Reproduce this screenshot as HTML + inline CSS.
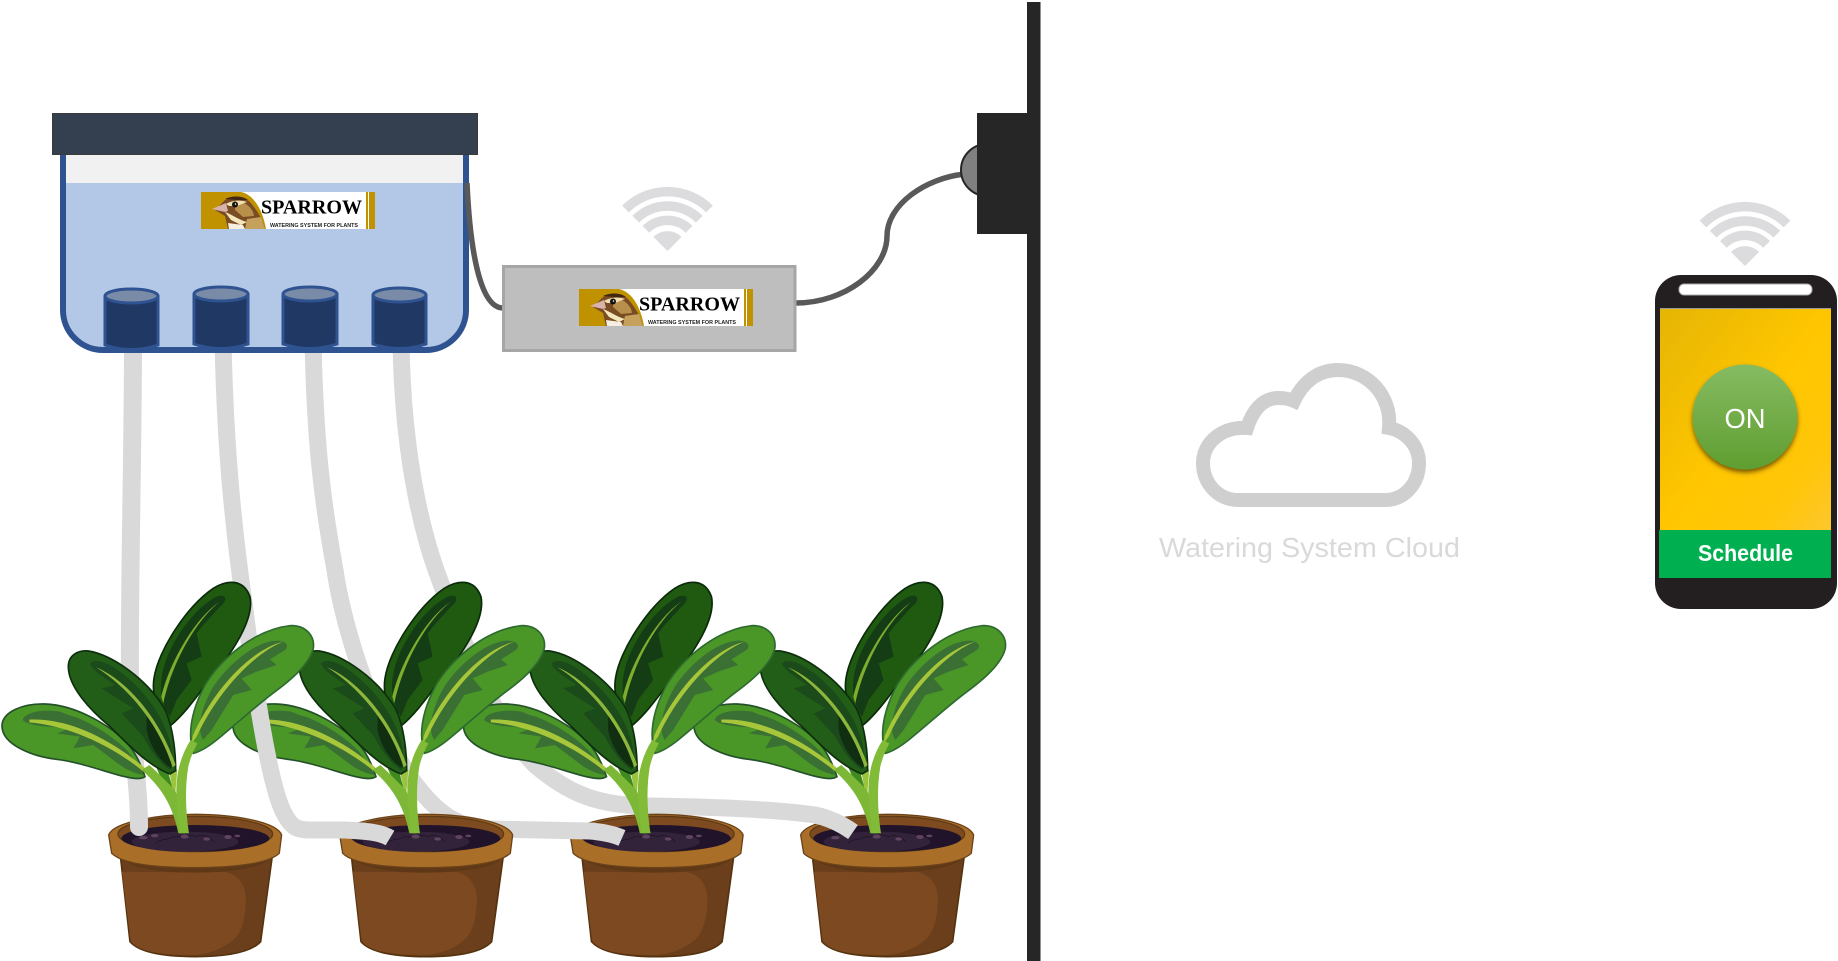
<!DOCTYPE html>
<html>
<head>
<meta charset="utf-8">
<style>
html,body{margin:0;padding:0;background:#fff;width:1838px;height:961px;overflow:hidden}
svg{display:block}
</style>
</head>
<body>
<svg width="1838" height="961" viewBox="0 0 1838 961" xmlns="http://www.w3.org/2000/svg">
<defs>
  <linearGradient id="scr" x1="0" y1="0" x2="1" y2="1"><stop offset="0" stop-color="#e5b505"/><stop offset=".5" stop-color="#ffc600"/><stop offset=".8" stop-color="#ffc60a"/><stop offset="1" stop-color="#fec72e"/></linearGradient>
  <linearGradient id="btn" x1="0" y1="0" x2="0" y2="1"><stop offset="0" stop-color="#86bb62"/><stop offset="1" stop-color="#5f9e30"/></linearGradient>
  <filter id="sh" x="-30%" y="-30%" width="160%" height="160%"><feDropShadow dx="0" dy="3" stdDeviation="2.500" flood-color="#5a4000" flood-opacity=".8"/></filter>
  <g id="wifi" fill="none" stroke="#dcdcdf" stroke-width="9.500">
    <path d="M-42 -42A59.500 59.500 0 0 1 42 -42"/>
    <path d="M-31.800 -31.800A45 45 0 0 1 31.800 -31.800"/>
    <path d="M-21.600 -21.600A30.500 30.500 0 0 1 21.600 -21.600"/>
    <path d="M0 0L-14.100 -14.100A20 20 0 0 1 14.100 -14.100Z" fill="#dcdcdf" stroke="none"/>
  </g>
  <g id="bird">
    <rect x="0" y="0" width="174" height="37" fill="#fff"/>
    <path d="M0 0H40C54 3 62 20 65 37H0Z" fill="#c09200"/>
    <rect x="165" y="0" width="2" height="37" fill="#c09200"/>
    <rect x="168" y="0" width="6" height="37" fill="#c09200"/>
    <path d="M24 8C32 3 42 4 49 10C56 18 62 28 64 37H27L24 24L14 18Z" fill="#7a4c24"/>
    <path d="M34 9C44 9 52 16 53 24L42 25L34 18Z" fill="#b98f4c"/>
    <path d="M46 27L60 25L64 37H44Z" fill="#c6a15e"/>
    <path d="M25 12C32 8 40 8 46 10L36 14L28 14Z" fill="#f0dfb0"/>
    <path d="M24 20C30 22 38 28 46 30L40 33L30 28Z" fill="#f4e7bc"/>
    <path d="M27 31L42 33L44 37H28Z" fill="#f4efe0"/>
    <path d="M24 7C32 3 42 4 47 8L36 8Z" fill="#3f2714"/>
    <path d="M11 17L25 11L27 19L24 20Z" fill="#d9b2ab"/>
    <circle cx="34" cy="12.500" r="3" fill="#111"/>
    <circle cx="34.500" cy="12" r=".8" fill="#fff"/>
  </g>
  <g id="pot">
    <path d="M362 865L390 1115C420 1150 500 1160 585 1160C670 1160 750 1150 782 1115L816 865Z" fill="#6b3f1b" stroke="#55330f" stroke-width="5"/>
    <path d="M366 905Q500 908 670 905Q735 915 738 990Q735 1080 700 1110Q650 1150 585 1155C500 1155 420 1150 392 1113Z" fill="#7d4920"/>
    <path d="M362 865C400 895 480 908 585 908C690 908 780 895 816 865L816 850L362 850Z" fill="#5e3817"/>
    <path d="M326 795C340 755 480 733 585 733C700 733 830 755 845 795L838 850C800 885 680 893 585 893C480 893 370 885 335 850Z" fill="#a96f28" stroke="#6b4219" stroke-width="4"/>
    <ellipse cx="586" cy="792" rx="232" ry="53" fill="#7d4b1f" stroke="#5f3a17" stroke-width="4"/>
    <ellipse cx="586" cy="805" rx="222" ry="40" fill="#21142a"/>
    <ellipse cx="555" cy="815" rx="160" ry="30" fill="#33233a"/>
    <path d="M468 820C480 805 505 812 520 800C545 805 560 790 590 800C610 792 630 800 640 815" fill="none" stroke="#1b1020" stroke-width="2"/>
    <g fill="#5e4460"><ellipse cx="464" cy="797" rx="11" ry="5"/><ellipse cx="430" cy="803" rx="13" ry="5"/><ellipse cx="554" cy="800" rx="12" ry="6"/><ellipse cx="620" cy="807" rx="10" ry="5"/><ellipse cx="684" cy="801" rx="11" ry="6"/><ellipse cx="712" cy="798" rx="9" ry="4"/></g>
  </g>
  <g id="foliage">
    <path d="M510 468C470 430 455 370 462 325C475 240 560 110 640 55C680 30 730 25 750 80C765 150 690 260 620 340C580 395 545 440 510 468Z" fill="#1f5a10" stroke="#0a2a0a" stroke-width="5"/>
    <path d="M510 440C480 400 475 340 495 280C520 200 590 110 650 80C680 70 685 90 660 110L610 165L590 190L605 260L560 280L575 330L530 390Z" fill="#143d15"/>
    <path d="M660 95C600 140 520 260 490 400L484 380C510 270 590 140 660 95Z" fill="#7fad2e"/>
    <path d="M6 468C6 425 70 400 135 402C230 405 340 470 390 530C410 555 425 590 435 620C420 630 395 625 365 618C300 600 230 575 170 568C100 560 6 525 6 468Z" fill="#4a9728" stroke="#24502a" stroke-width="5"/>
    <path d="M68 450C75 425 130 418 180 425L205 435C250 445 330 490 380 540C400 565 420 590 430 615C400 610 370 595 340 570L280 525L220 535L240 500L170 490L210 475C150 470 90 470 68 450Z" fill="#3a7033"/>
    <path d="M88 449C200 444 320 500 430 590L440 600L432 606C330 522 200 466 88 457Z" fill="#a7c63a"/>
    <path d="M470 595L500 590L525 680L520 690C500 660 485 630 470 595Z" fill="#3f8a1e"/>
    <path d="M505 590L532 600L525 680L520 670Z" fill="#9bc43c"/>
    <path d="M205 290C205 255 235 240 265 243C340 255 440 330 490 410C515 455 527 530 527 602L510 612C450 590 390 530 330 470C270 420 205 350 205 290Z" fill="#235e18" stroke="#0e2f0e" stroke-width="5"/>
    <path d="M270 280C285 265 320 275 360 305C420 350 480 420 505 500C520 545 520 590 510 600C480 580 450 540 430 500L365 430L400 415L305 355L345 345C310 320 275 300 270 280Z" fill="#1b4a1b"/>
    <path d="M440 430C480 470 510 530 515 595C480 575 450 530 440 480Z" fill="#0f2f10"/>
    <path d="M288 292C360 320 470 420 527 585L518 592C470 440 360 335 288 292Z" fill="#8fb63c"/>
    <path d="M580 550C562 490 575 420 615 345C660 270 760 180 870 167C920 165 945 200 940 235C930 280 880 325 825 365C765 410 700 470 650 510C625 530 600 545 580 550Z" fill="#4a9728" stroke="#2e6a30" stroke-width="5"/>
    <path d="M610 510C590 480 600 420 640 350C680 290 760 215 830 212C855 212 870 225 855 240L810 268L830 285L770 305L725 325L755 360L700 375L635 480Z" fill="#3a7033"/>
    <path d="M850 215C760 250 650 370 590 500L575 520L578 498C640 360 750 240 850 215Z" fill="#a7c63a"/>
    <path d="M425 600C470 640 515 690 535 790L555 790C548 730 530 670 525 660C500 635 470 605 448 585Z" fill="#7cb736"/>
    <path d="M572 510C540 560 525 620 530 690L540 790L567 790C556 720 555 650 565 590C572 560 582 540 592 520Z" fill="#82bb38"/>
  </g>
</defs>

<!-- plant 4 and tube 4 -->
<g transform="translate(692,570) scale(.3333)"><use href="#pot"/><use href="#foliage"/></g>
<path d="M401 340C402 430 415 510 436 570C465 650 500 730 535 765C570 795 600 806 650 806C720 807 780 810 815 815C830 818 843 825 853 832" fill="none" stroke="#d9d9d9" stroke-width="17"/>

<!-- plant 3 and tube 3 -->
<g transform="translate(461.500,570) scale(.3333)"><use href="#pot"/><use href="#foliage"/></g>
<path d="M313 340C315 440 322 500 335 570C345 640 385 750 420 790C440 815 460 828 490 829L590 831C602 832 613 834 622 838" fill="none" stroke="#d9d9d9" stroke-width="17"/>

<!-- plant 2 and tube 2 -->
<g transform="translate(231,570) scale(.3333)"><use href="#pot"/><use href="#foliage"/></g>
<path d="M223 340C225 440 232 520 245 610C255 690 270 790 285 815C292 828 298 830 310 830L345 830C365 831 380 832 390 838" fill="none" stroke="#d9d9d9" stroke-width="17"/>

<!-- plant 1 and tube 1 -->
<g transform="translate(0,570) scale(.3333)"><use href="#pot"/></g>
<path d="M133 340C133 450 129 600 130 680C131 750 139 780 139 827" fill="none" stroke="#d9d9d9" stroke-width="18" stroke-linecap="round"/>
<g transform="translate(0,570) scale(.3333)"><use href="#foliage"/></g>

<!-- tank -->
<path d="M66 155H463V183H66Z" fill="#f1f1f1"/>
<path d="M66 183H463V313A37 37 0 0 1 426 347H103A37 37 0 0 1 66 313Z" fill="#b3c7e6"/>
<path d="M63 155V310A40 40 0 0 0 103 350H426A40 40 0 0 0 466 310V155" fill="none" stroke="#2f5291" stroke-width="6"/>
<rect x="52.500" y="113.500" width="425" height="41" fill="#343f50" stroke="#3a3a3a" stroke-width="1"/>

<!-- logo on tank -->
<g transform="translate(201,192)">
  <use href="#bird"/>
  <text x="60" y="21.500" font-family="'Liberation Serif',serif" font-weight="700" font-size="20" fill="#000" textLength="101" lengthAdjust="spacingAndGlyphs">SPARROW</text>
  <text x="69" y="35" font-family="'Liberation Sans',sans-serif" font-weight="700" font-size="5.500" fill="#222" textLength="88" lengthAdjust="spacingAndGlyphs">WATERING SYSTEM FOR PLANTS</text>
</g>

<!-- cylinders -->
<g fill="#1f3864" stroke="#2f5291" stroke-width="3">
  <path d="M105 296V345Q131.500 354 158 345V296"/><ellipse cx="131.500" cy="296" rx="26.500" ry="7" fill="#7a8ba8"/>
  <path d="M194 294V344Q221 353 248 344V294"/><ellipse cx="221" cy="294" rx="27" ry="7" fill="#7a8ba8"/>
  <path d="M283 294V344Q310 353 337 344V294"/><ellipse cx="310" cy="294" rx="27" ry="7" fill="#7a8ba8"/>
  <path d="M373 295V344Q399.500 353 426 344V295"/><ellipse cx="399.500" cy="295" rx="26.500" ry="7" fill="#7a8ba8"/>
</g>

<!-- cables -->
<path d="M467 183C470 250 480 308 503 308" fill="none" stroke="#595959" stroke-width="5.500"/>
<path d="M796 303C845 303 887 270 887 236C887 205 925 178 965 174" fill="none" stroke="#595959" stroke-width="5.500"/>

<!-- controller box -->
<rect x="503.500" y="266.500" width="291.500" height="84" fill="#bebebe" stroke="#a6a6a6" stroke-width="3"/>
<g transform="translate(579,289)">
  <use href="#bird"/>
  <text x="60" y="21.500" font-family="'Liberation Serif',serif" font-weight="700" font-size="20" fill="#000" textLength="101" lengthAdjust="spacingAndGlyphs">SPARROW</text>
  <text x="69" y="35" font-family="'Liberation Sans',sans-serif" font-weight="700" font-size="5.500" fill="#222" textLength="88" lengthAdjust="spacingAndGlyphs">WATERING SYSTEM FOR PLANTS</text>
</g>
<use href="#wifi" transform="translate(667.500,251)"/>

<!-- plug and wall -->
<circle cx="987" cy="170" r="26" fill="#808080" stroke="#262626" stroke-width="2"/>
<rect x="977" y="113" width="52" height="121" fill="#262626"/>
<rect x="1027" y="2" width="13.500" height="959" fill="#262626"/>

<!-- cloud -->
<path d="M1238 500H1385C1405 500 1419 483 1419 463C1419 445 1405 431 1389 428C1392 396 1368 370 1338 370C1318 370 1303 382 1294 401C1287 398 1282 398 1278 398C1262 398 1252 412 1247 428C1222 426 1203 443 1203 463C1203 483 1218 500 1238 500Z" fill="#fff" stroke="#cfcfcf" stroke-width="14"/>
<text x="1159" y="557" font-family="'Liberation Sans',sans-serif" font-size="28" fill="#d9d9d9" textLength="301" lengthAdjust="spacingAndGlyphs">Watering System Cloud</text>

<!-- phone -->
<use href="#wifi" transform="translate(1745,266)"/>
<rect x="1655" y="275" width="182" height="334" rx="26" fill="#231f20"/>
<rect x="1679" y="284" width="133" height="11" rx="5" fill="#fff" stroke="#aaa" stroke-width="1"/>
<rect x="1660" y="308" width="171" height="1" fill="#999"/>
<rect x="1660" y="309" width="171" height="222" fill="url(#scr)"/>
<rect x="1659" y="530" width="172" height="48" fill="#00b050"/>
<text x="1698" y="561" font-family="'Liberation Sans',sans-serif" font-weight="700" font-size="23" fill="#fff" textLength="95" lengthAdjust="spacingAndGlyphs">Schedule</text>
<circle cx="1745" cy="417" r="52.500" fill="url(#btn)" filter="url(#sh)"/>
<text x="1724.500" y="428" font-family="'Liberation Sans',sans-serif" font-size="28" fill="#fff" textLength="41" lengthAdjust="spacingAndGlyphs">ON</text>
</svg>
</body>
</html>
